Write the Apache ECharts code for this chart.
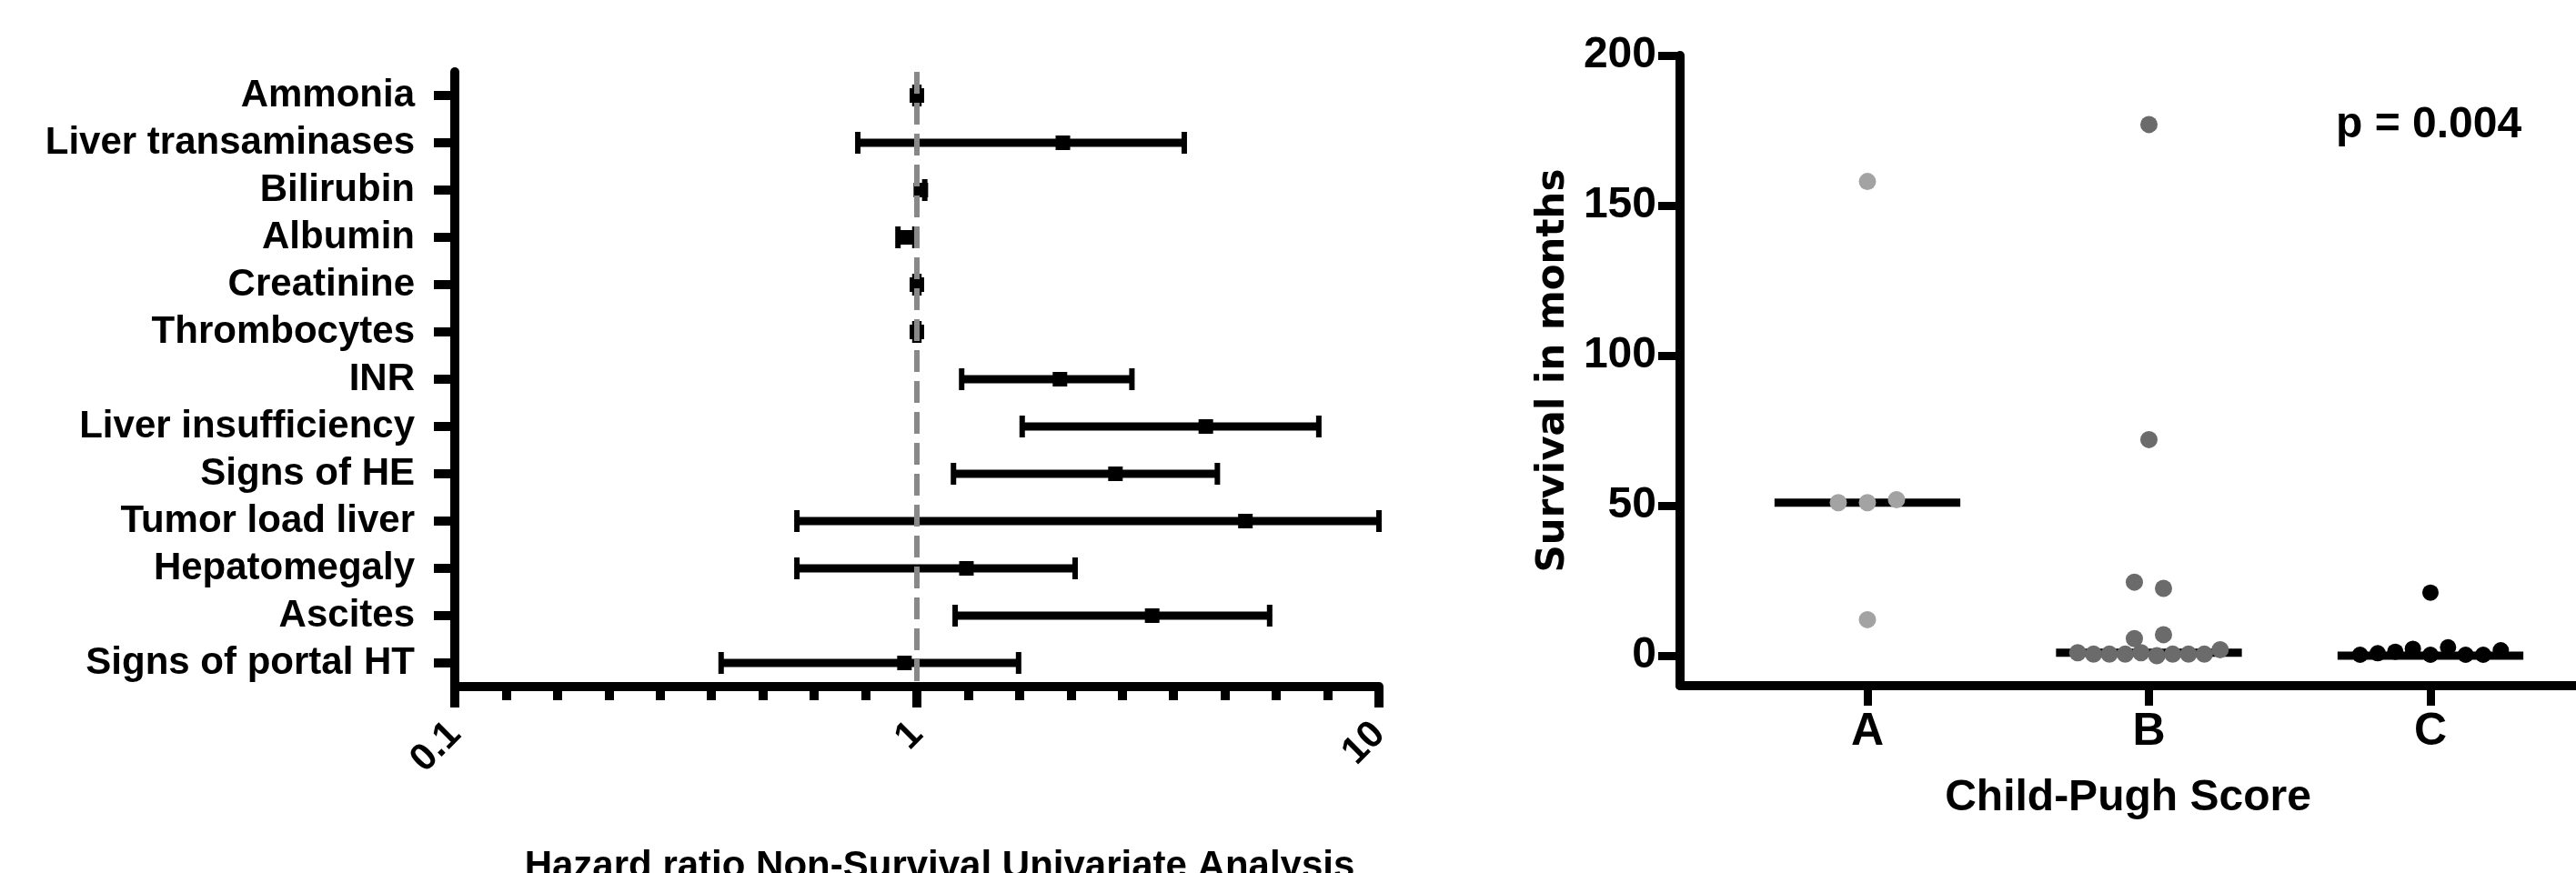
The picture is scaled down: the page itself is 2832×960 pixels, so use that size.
<!DOCTYPE html>
<html>
<head>
<meta charset="utf-8">
<script src="https://cdn.jsdelivr.net/npm/echarts@6/dist/echarts.min.js"></script>
<style>
    html, body { margin: 0; padding: 0; background: #fff; }
    #chart { width: 2832px; height: 960px; }
</style>
</head>
<body>
<div id="chart"></div>
<script>
// 左图：单因素风险比（HR 与 95% CI）
var factorNames = ['Ammonia', 'Liver transaminases', 'Bilirubin', 'Albumin', 'Creatinine', 'Thrombocytes',
    'INR', 'Liver insufficiency', 'Signs of HE', 'Tumor load liver', 'Hepatomegaly', 'Ascites', 'Signs of portal HT'];
var hazardRatio = [1.0, 2.07, 1.02, 0.95, 1.0, 1.0, 2.04, 4.22, 2.69, 5.14, 1.28, 3.23, 0.94];
var ciLower = [0.99, 0.745, 1.0, 0.91, 0.99, 0.99, 1.25, 1.69, 1.2, 0.55, 0.55, 1.21, 0.377];
var ciUpper = [1.01, 3.79, 1.04, 0.99, 1.01, 1.01, 2.92, 7.41, 4.47, 10.0, 2.2, 5.8, 1.66];
var hrTickValues = [0.1, 1, 10];

// 右图：Child-Pugh 分级的生存月数（每组按图中从左到右的顺序）
var groupNames = ['A', 'B', 'C'];
var survivalA = [158, 51, 51, 52, 12];
var survivalB = [177, 72, 24.5, 22.4, 5.7, 7, 1, 0.5, 0.5, 0.5, 1, 0, 0.5, 0.5, 0.5, 2];
var survivalC = [21, 0.3, 0.8, 1.3, 2.3, 0.3, 2.8, 0.3, 0.3, 1.8];
var medianSurvival = [51, 1, 0];
var survivalTicks = [0, 50, 100, 150, 200];
var pValueText = 'p = 0.004';

var fontName = 'Liberation Sans, Arial, sans-serif';
var groupColors = ['#a3a3a3', '#6b6b6b', '#000000'];

function log10(v) {
    return Math.log(v) / Math.LN10;
}

// 散点分行排列：数值相近的点放在同一行，左右居中展开
function swarmPoints(values, groupIndex) {
    var order = values.map(function (v, i) { return i; });
    order.sort(function (a, b) { return values[a] - values[b] || a - b; });
    var rows = [];
    order.forEach(function (idx) {
        var row = rows[rows.length - 1];
        if (row && values[idx] - values[row[0]] < 5) {
            row.push(idx);
        } else {
            rows.push([idx]);
        }
    });
    var points = [];
    rows.forEach(function (row) {
        row.sort(function (a, b) { return a - b; });
        var step = Math.min(32, 174 / row.length) / 309.5;
        row.forEach(function (idx, k) {
            points.push([groupIndex + 1 + (k - (row.length - 1) / 2) * step, values[idx]]);
        });
    });
    return points;
}

var ciData = [];
var hrData = [];
for (var i = 0; i < factorNames.length; i++) {
    ciData.push([log10(ciLower[i]), log10(ciUpper[i]), i]);
    hrData.push([log10(hazardRatio[i]), i]);
}

var medianData = [];
for (var g = 0; g < groupNames.length; g++) {
    medianData.push([g + 1, medianSurvival[g]]);
}

var option = {
    animation: false,
    backgroundColor: '#fff',
    grid: [
        { left: 500, top: 79, width: 1016, height: 676, outerBoundsMode: 'none', containLabel: false },
        { left: 1847, top: 61, width: 985, height: 693, outerBoundsMode: 'none', containLabel: false }
    ],
    xAxis: [{
        gridIndex: 0,
        type: 'value',
        min: -1,
        max: 1,
        interval: 1,
        splitLine: { show: false },
        axisLine: { show: true, onZero: false, lineStyle: { color: '#000', width: 10 } },
        axisTick: { show: true, length: 23, lineStyle: { color: '#000', width: 10 } },
        minorTick: { show: true, splitNumber: 9, length: 15, lineStyle: { color: '#000', width: 10 } },
        axisLabel: {
            rotate: 45,
            margin: 46,
            fontSize: 42,
            fontFamily: fontName,
            fontWeight: 'bold',
            color: '#000',
            formatter: function (v) {
                return String(hrTickValues[Math.round(v) + 1]);
            }
        },
        name: 'Hazard ratio Non-Survival Univariate Analysis',
        nameLocation: 'middle',
        nameGap: 177,
        nameTextStyle: { fontSize: 42, fontFamily: fontName, fontWeight: 'bold', color: '#000', padding: [0, 0, 0, 50] }
    }, {
        gridIndex: 1,
        type: 'value',
        min: 0.3344,
        max: 3.517,
        splitLine: { show: false },
        axisLine: { show: true, onZero: false, lineStyle: { color: '#000', width: 10 } },
        axisTick: { show: true, customValues: [1, 2, 3], length: 22, lineStyle: { color: '#000', width: 9 } },
        axisLabel: {
            customValues: [1, 2, 3],
            margin: 26,
            fontSize: 50,
            fontFamily: fontName,
            fontWeight: 'bold',
            color: '#000',
            formatter: function (v) {
                return groupNames[Math.round(v) - 1];
            }
        },
        name: 'Child-Pugh Score',
        nameLocation: 'middle',
        nameGap: 100,
        nameTextStyle: { fontSize: 48, fontFamily: fontName, fontWeight: 'bold', color: '#000' }
    }],
    yAxis: [{
        gridIndex: 0,
        type: 'category',
        inverse: true,
        data: factorNames,
        axisLine: { show: true, onZero: false, lineStyle: { color: '#000', width: 10 } },
        axisTick: { show: true, alignWithLabel: true, interval: 0, length: 23, lineStyle: { color: '#000', width: 10 } },
        axisLabel: { interval: 0, margin: 44, fontSize: 42, fontFamily: fontName, fontWeight: 'bold', color: '#000' }
    }, {
        gridIndex: 1,
        type: 'value',
        min: -10,
        max: 200,
        splitLine: { show: false },
        axisLine: { show: true, onZero: false, lineStyle: { color: '#000', width: 10 } },
        axisTick: { show: true, customValues: survivalTicks, length: 24, lineStyle: { color: '#000', width: 9 } },
        axisLabel: { customValues: survivalTicks, margin: 26, fontSize: 48, fontFamily: fontName, fontWeight: 'bold', color: '#000' },
        name: 'Survival in months',
        nameLocation: 'middle',
        nameRotate: 90,
        nameGap: 118,
        nameTextStyle: { fontSize: 42, fontFamily: 'DejaVu Sans, sans-serif', fontWeight: 'bold', color: '#000' }
    }],
    graphic: [{
        type: 'text',
        left: 2568,
        top: 114,
        style: { text: pValueText, font: 'bold 48px ' + fontName, fill: '#000' }
    }],
    series: [
        // HR = 1 的虚线参考线
        {
            type: 'scatter',
            xAxisIndex: 0,
            yAxisIndex: 0,
            data: [],
            z: 1,
            markLine: {
                silent: true,
                symbol: 'none',
                label: { show: false },
                lineStyle: { color: '#888', width: 6, type: [24, 10] },
                data: [{ xAxis: 0 }]
            }
        },
        // 置信区间
        {
            type: 'custom',
            xAxisIndex: 0,
            yAxisIndex: 0,
            z: 3,
            data: ciData,
            renderItem: function (params, api) {
                var p1 = api.coord([api.value(0), api.value(2)]);
                var p2 = api.coord([api.value(1), api.value(2)]);
                var style = { fill: '#000', stroke: null };
                return {
                    type: 'group',
                    children: [
                        { type: 'line', shape: { x1: p1[0], y1: p1[1], x2: p2[0], y2: p2[1] }, style: { stroke: '#000', lineWidth: 9 } },
                        { type: 'rect', shape: { x: p1[0] - 3, y: p1[1] - 12, width: 6, height: 24 }, style: style },
                        { type: 'rect', shape: { x: p2[0] - 3, y: p2[1] - 12, width: 6, height: 24 }, style: style }
                    ]
                };
            }
        },
        // HR 点
        {
            type: 'scatter',
            xAxisIndex: 0,
            yAxisIndex: 0,
            z: 4,
            symbol: 'rect',
            symbolSize: 16,
            itemStyle: { color: '#000', opacity: 1 },
            data: hrData
        },
        // 中位数横线
        {
            type: 'custom',
            xAxisIndex: 1,
            yAxisIndex: 1,
            z: 2,
            data: medianData,
            renderItem: function (params, api) {
                var a = api.coord([api.value(0) - 0.33, api.value(1)]);
                var b = api.coord([api.value(0) + 0.33, api.value(1)]);
                return {
                    type: 'line',
                    shape: { x1: a[0], y1: a[1], x2: b[0], y2: b[1] },
                    style: { stroke: '#000', lineWidth: 9 }
                };
            }
        },
        {
            type: 'scatter',
            xAxisIndex: 1,
            yAxisIndex: 1,
            z: 3,
            symbolSize: 19,
            itemStyle: { color: groupColors[0], opacity: 1 },
            data: swarmPoints(survivalA, 0)
        },
        {
            type: 'scatter',
            xAxisIndex: 1,
            yAxisIndex: 1,
            z: 3,
            symbolSize: 19,
            itemStyle: { color: groupColors[1], opacity: 1 },
            data: swarmPoints(survivalB, 1)
        },
        {
            type: 'scatter',
            xAxisIndex: 1,
            yAxisIndex: 1,
            z: 3,
            symbolSize: 18,
            itemStyle: { color: groupColors[2], opacity: 1 },
            data: swarmPoints(survivalC, 2)
        }
    ]
};

var myChart = echarts.init(document.getElementById('chart'));
myChart.setOption(option);
</script>
</body>
</html>
